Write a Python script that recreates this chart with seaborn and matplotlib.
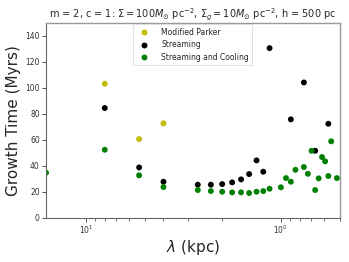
import matplotlib
matplotlib.use("Agg")
import matplotlib.pyplot as plt
import seaborn as sns
import pandas as pd

# Data (wavelength in kpc, growth time in Myr)
lam_parker = [8.0, 5.333, 4.0]
t_parker = [103.1, 60.5, 72.6]

lam_stream = [8.0, 5.333, 4.0, 2.667, 2.286, 2.0, 1.778, 1.6, 1.455, 1.333,
              1.231, 1.143, 0.889, 0.762, 0.667, 0.571]
t_stream = [84.4, 38.7, 27.7, 25.4, 25.4, 25.9, 27.2, 29.5, 33.6, 44.1,
            35.4, 130.5, 75.7, 104.1, 51.5, 72.3]

lam_cool = [16.0, 8.0, 5.333, 4.0, 2.667, 2.286, 2.0, 1.778, 1.6, 1.455,
            1.333, 1.231, 1.143, 1.0, 0.941, 0.889, 0.842, 0.762, 0.727,
            0.696, 0.667, 0.64, 0.615, 0.593, 0.571, 0.552, 0.516]
t_cool = [34.6, 52.3, 32.6, 23.6, 21.3, 20.5, 20.0, 19.5, 19.5, 19.0,
          20.0, 20.5, 22.3, 23.4, 30.5, 27.7, 36.9, 39.0, 33.8,
          51.5, 21.3, 30.3, 46.7, 43.4, 32.1, 58.8, 30.5]

labels = ["Modified Parker", "Streaming", "Streaming and Cooling"]
colors = ["#bfbf00", "#000000", "#008000"]

df = pd.concat([
    pd.DataFrame({"lam": lam_parker, "t": t_parker, "model": labels[0]}),
    pd.DataFrame({"lam": lam_stream, "t": t_stream, "model": labels[1]}),
    pd.DataFrame({"lam": lam_cool, "t": t_cool, "model": labels[2]}),
], ignore_index=True)

sns.set_style("ticks")
plt.rcParams["font.family"] = ["DejaVu Sans"]

fig = plt.figure(figsize=(3.49, 2.62), dpi=100)
ax = fig.add_axes([0.132, 0.169, 0.841, 0.744])

sns.scatterplot(data=df, x="lam", y="t", hue="model", hue_order=labels,
                palette=dict(zip(labels, colors)), s=18, linewidth=0,
                ax=ax)

ax.set_xscale("log")
ax.set_xlim(16, 0.5)
ax.set_ylim(0, 150)
ax.set_yticks([0, 20, 40, 60, 80, 100, 120, 140])
ax.tick_params(axis="both", which="major", labelsize=5.5, length=3, width=0.6,
               colors="#333333", pad=1.5)
ax.tick_params(axis="x", which="minor", length=1.8, width=0.5, colors="#333333")
for s in ax.spines.values():
    s.set_color("#666666")
    s.set_linewidth(0.8)
for s in ["top", "right"]:
    ax.spines[s].set_color("#999999")
    ax.spines[s].set_linewidth(1.0)

ax.set_xlabel(r"$\lambda$ (kpc)", fontsize=11, labelpad=1)
ax.set_ylabel("Growth Time (Myrs)", fontsize=11, labelpad=3)
ax.set_title(r"m = 2, c = 1: $\Sigma = 100M_{\odot}$ pc$^{-2}$, "
             r"$\Sigma_g = 10M_{\odot}$ pc$^{-2}$, h = 500 pc",
             fontsize=7, pad=3)

leg = ax.legend(loc="upper center", fontsize=5.5, frameon=True,
                markerscale=1.0, borderpad=0.45, labelspacing=0.45,
                handletextpad=1.2, borderaxespad=0.2)
leg.get_frame().set_linewidth(0.5)
leg.get_frame().set_edgecolor("#cccccc")

fig.savefig("out.png", dpi=100)
